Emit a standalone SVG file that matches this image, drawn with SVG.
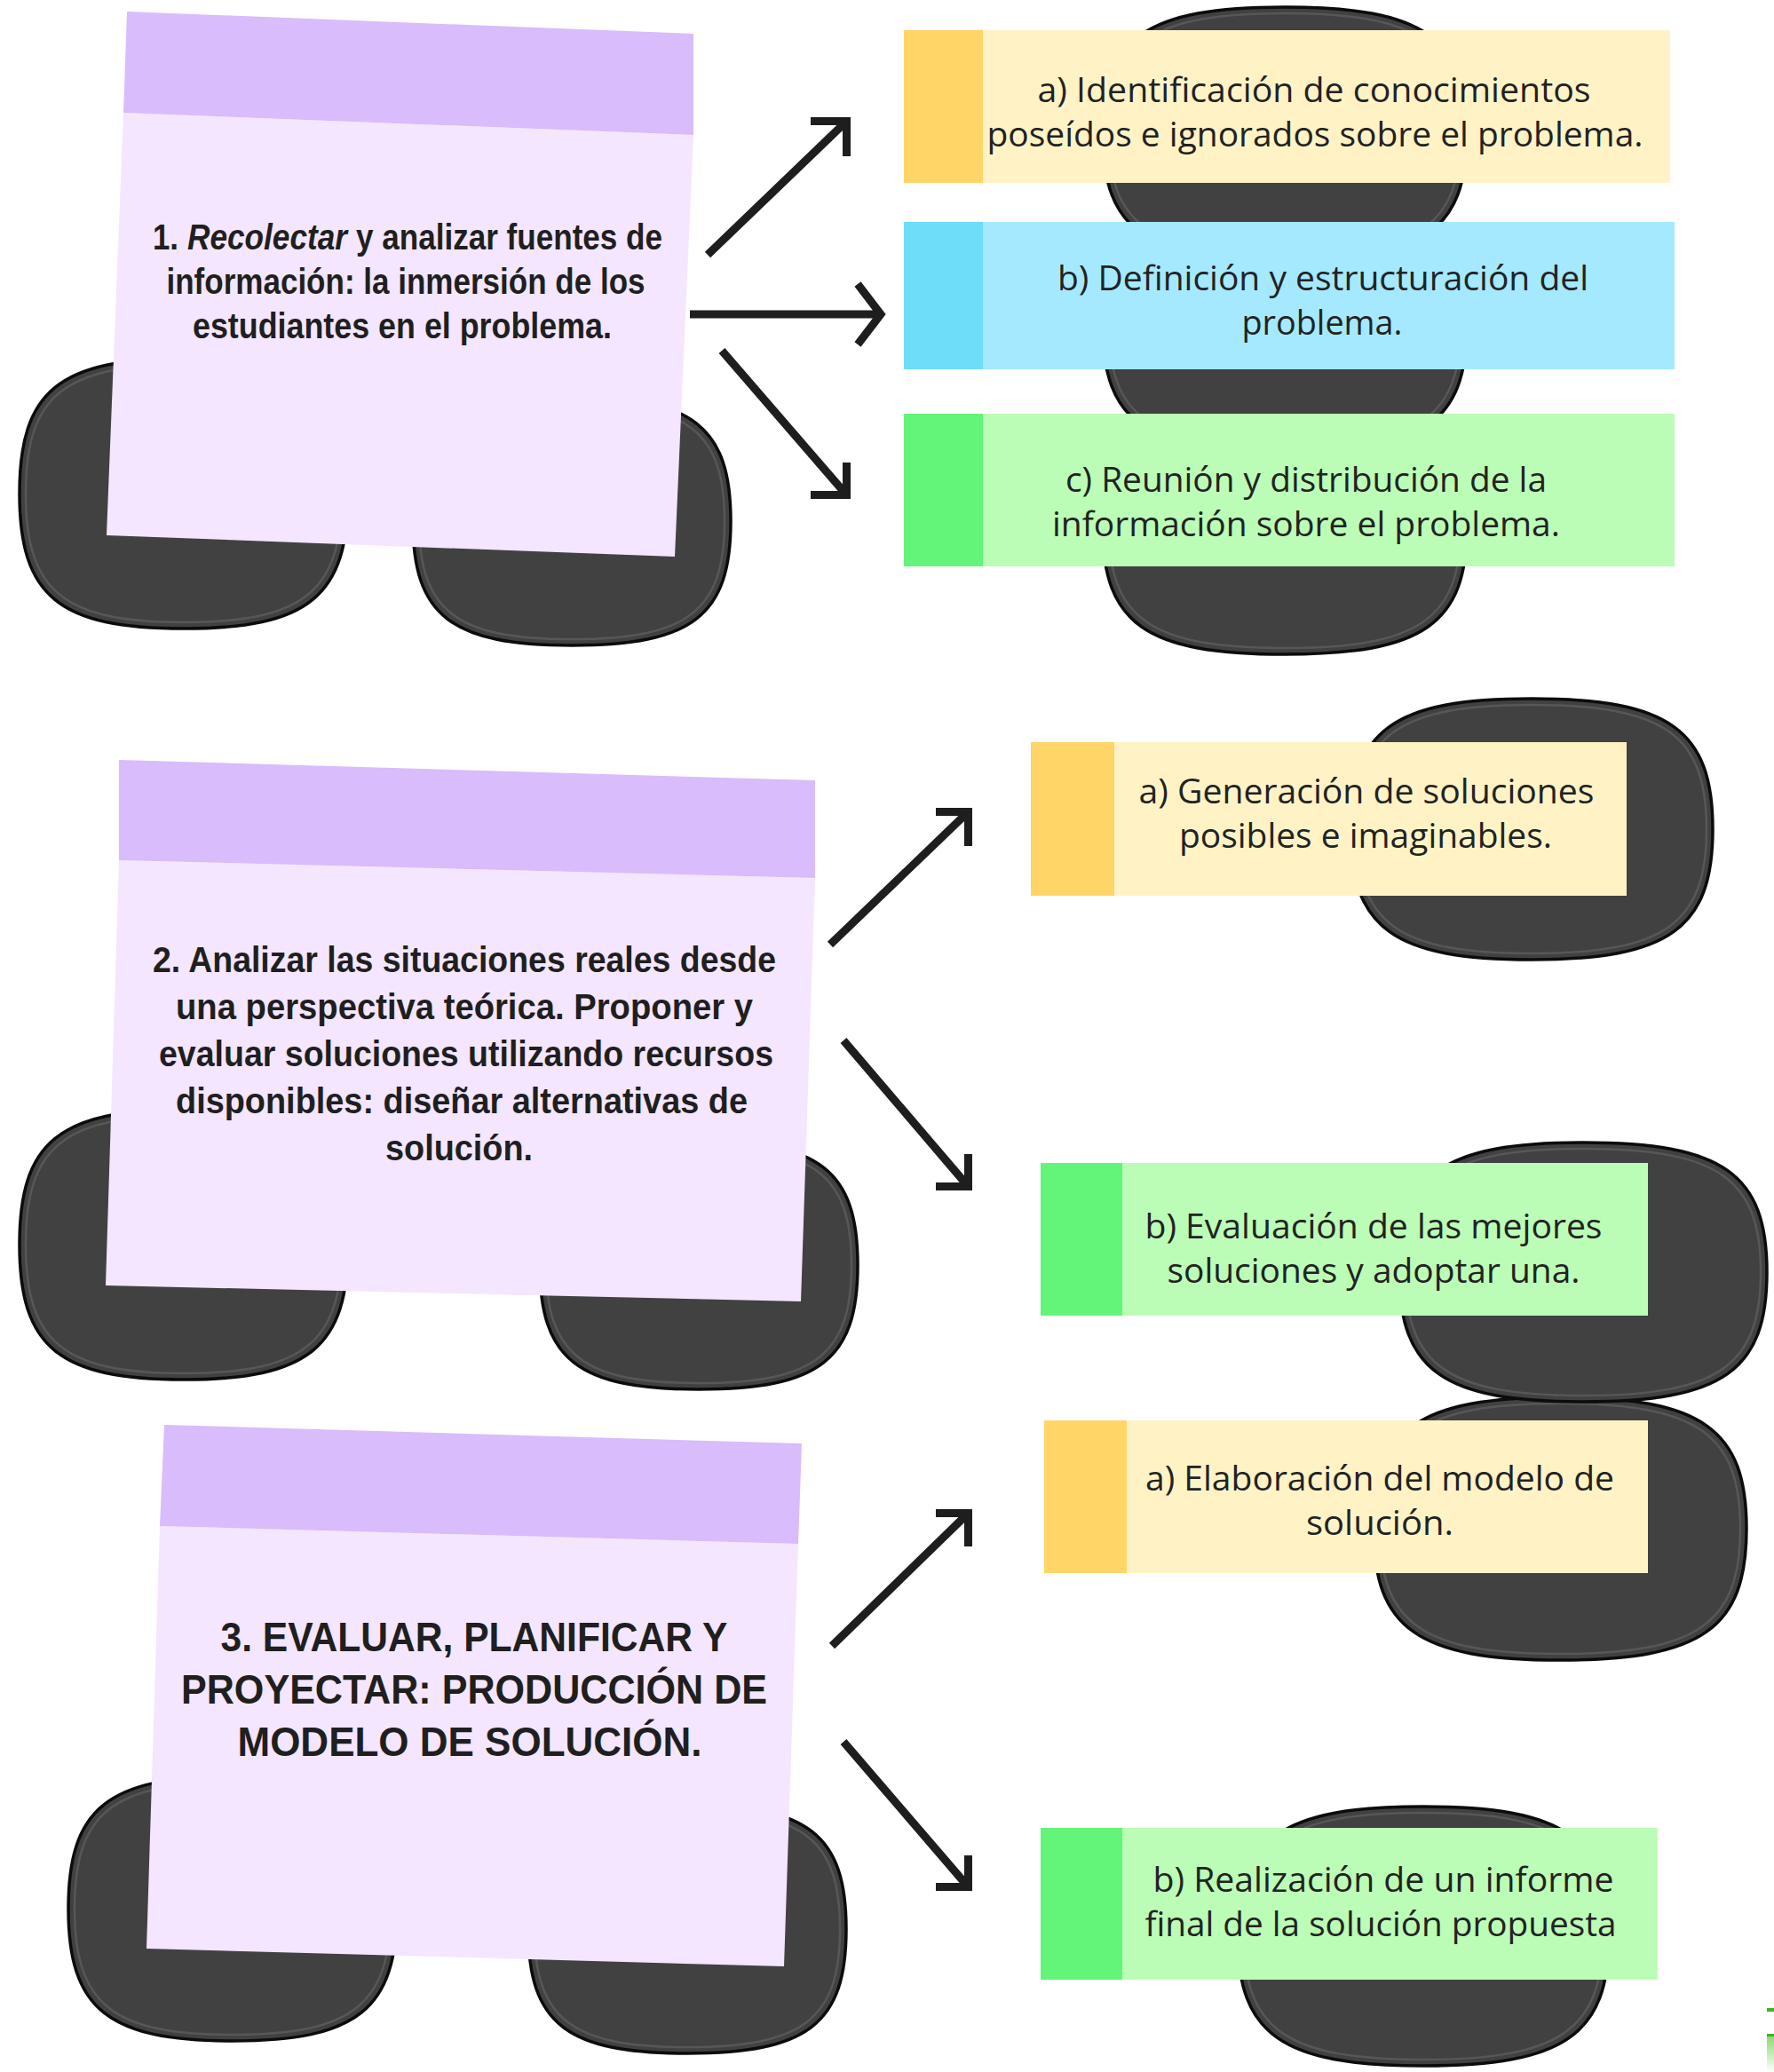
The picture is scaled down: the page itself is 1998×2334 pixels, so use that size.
<svg xmlns="http://www.w3.org/2000/svg" width="1998" height="2334" viewBox="0 0 1998 2334">
<defs>
<style>
.blob{fill:#414141;stroke:#0c0c0c;stroke-width:3.5}
.ring{fill:none;stroke:#575757;stroke-width:2.5}
.hdr{fill:#D9BCFB}
.bdy{fill:#F3E6FE}
.nt{font-family:"Liberation Sans",Arial,sans-serif;font-weight:bold;fill:#1f1f1f;text-anchor:middle}
.st{text-anchor:start}
.bt{font-family:"Open Sans","Noto Sans",sans-serif;font-size:38px;fill:#222;text-anchor:middle}
.y1{fill:#FFD568}.y2{fill:#FFF3C6}
.b1{fill:#6DDDF9}.b2{fill:#A4E9FF}
.g1{fill:#62F57A}.g2{fill:#BBFDB6}
.arr{fill:none;stroke:#1e1e1e;stroke-width:9;stroke-linecap:butt;stroke-linejoin:miter}
</style>
<path id="sq" d="M-1,0 C-1,-0.76 -0.76,-1 0,-1 C0.76,-1 1,-0.76 1,0 C1,0.76 0.76,1 0,1 C-0.76,1 -1,0.76 -1,0 Z" vector-effect="non-scaling-stroke"/>
<linearGradient id="gf" x1="0" y1="0" x2="0" y2="1"><stop offset="0" stop-color="#8fd870"/><stop offset="1" stop-color="#ffffff"/></linearGradient>
</defs>
<rect width="1998" height="2334" fill="#ffffff"/>
<g id="backdrops">
<use href="#sq" class="blob" transform="translate(207,556) scale(185,152)"/><use href="#sq" class="ring" transform="translate(207,556) scale(178,145)"/>
<use href="#sq" class="blob" transform="translate(644,587) scale(179,140)"/><use href="#sq" class="ring" transform="translate(644,587) scale(172,133)"/>
<use href="#sq" class="blob" transform="translate(1447,594) scale(205,143)"/><use href="#sq" class="ring" transform="translate(1447,594) scale(198,136)"/>
<use href="#sq" class="blob" transform="translate(1447,367) scale(205,143)"/><use href="#sq" class="ring" transform="translate(1447,367) scale(198,136)"/>
<use href="#sq" class="blob" transform="translate(1447,151) scale(205,143)"/><use href="#sq" class="ring" transform="translate(1447,151) scale(198,136)"/>
<use href="#sq" class="blob" transform="translate(207,1402) scale(185,152)"/><use href="#sq" class="ring" transform="translate(207,1402) scale(178,145)"/>
<use href="#sq" class="blob" transform="translate(787,1425) scale(179,140)"/><use href="#sq" class="ring" transform="translate(787,1425) scale(172,133)"/>
<use href="#sq" class="blob" transform="translate(1725,934) scale(204,147)"/><use href="#sq" class="ring" transform="translate(1725,934) scale(197,140)"/>
<use href="#sq" class="blob" transform="translate(1757,1722) scale(210,148)"/><use href="#sq" class="ring" transform="translate(1757,1722) scale(203,141)"/>
<use href="#sq" class="blob" transform="translate(1783,1433) scale(207,146)"/><use href="#sq" class="ring" transform="translate(1783,1433) scale(200,139)"/>
<use href="#sq" class="blob" transform="translate(1603,2181) scale(209,146)"/><use href="#sq" class="ring" transform="translate(1603,2181) scale(202,139)"/>
<use href="#sq" class="blob" transform="translate(262,2150) scale(185,149)"/><use href="#sq" class="ring" transform="translate(262,2150) scale(178,142)"/>
<use href="#sq" class="blob" transform="translate(774,2173) scale(179,140)"/><use href="#sq" class="ring" transform="translate(774,2173) scale(172,133)"/>
</g>
<g id="note1">
<polygon class="bdy" points="139,127 781,152 760,627 120,603"/>
<polygon class="hdr" points="143,13 781,38 781,152 139,127"/>
<text class="nt st" font-size="40" x="172" y="281" textLength="29" lengthAdjust="spacingAndGlyphs">1.</text>
<text class="nt st" font-size="40" font-style="italic" x="211" y="281" textLength="180" lengthAdjust="spacingAndGlyphs">Recolectar</text>
<text class="nt st" font-size="40" x="401" y="281" textLength="345" lengthAdjust="spacingAndGlyphs">y analizar fuentes de</text>
<text class="nt" font-size="40" x="457" y="331" textLength="539" lengthAdjust="spacingAndGlyphs">información: la inmersión de los</text>
<text class="nt" font-size="40" x="453" y="381" textLength="472" lengthAdjust="spacingAndGlyphs">estudiantes en el problema.</text>
</g>
<g id="note2">
<polygon class="bdy" points="134,969 918,989 902,1466 119,1448"/>
<polygon class="hdr" points="134,856 918,879 918,989 134,969"/>
<text class="nt" font-size="40" x="523" y="1095" textLength="702" lengthAdjust="spacingAndGlyphs">2. Analizar las situaciones reales desde</text>
<text class="nt" font-size="40" x="523" y="1148" textLength="650" lengthAdjust="spacingAndGlyphs">una perspectiva teórica. Proponer y</text>
<text class="nt" font-size="40" x="525" y="1201" textLength="692" lengthAdjust="spacingAndGlyphs">evaluar soluciones utilizando recursos</text>
<text class="nt" font-size="40" x="520" y="1254" textLength="644" lengthAdjust="spacingAndGlyphs">disponibles: diseñar alternativas de</text>
<text class="nt" font-size="40" x="517" y="1307" textLength="166" lengthAdjust="spacingAndGlyphs">solución.</text>
</g>
<g id="note3">
<polygon class="bdy" points="180,1719 899,1739 883,2215 165,2195"/>
<polygon class="hdr" points="185,1605 903,1626 899,1739 180,1719"/>
<text class="nt" font-size="46" x="534" y="1860" textLength="571" lengthAdjust="spacingAndGlyphs">3. EVALUAR, PLANIFICAR Y</text>
<text class="nt" font-size="46" x="534" y="1919" textLength="660" lengthAdjust="spacingAndGlyphs">PROYECTAR: PRODUCCIÓN DE</text>
<text class="nt" font-size="46" x="529" y="1978" textLength="523" lengthAdjust="spacingAndGlyphs">MODELO DE SOLUCIÓN.</text>
</g>
<g id="box1a">
<rect class="y2" x="1018" y="34" width="863" height="172"/><rect class="y1" x="1018" y="34" width="89" height="172"/>
<text class="bt" x="1480" y="115" textLength="623" lengthAdjust="spacingAndGlyphs">a) Identificación de conocimientos</text>
<text class="bt" x="1481" y="165" textLength="739" lengthAdjust="spacingAndGlyphs">poseídos e ignorados sobre el problema.</text>
</g>
<g id="box1b">
<rect class="b2" x="1018" y="250" width="868" height="166"/><rect class="b1" x="1018" y="250" width="89" height="166"/>
<text class="bt" x="1490" y="327" textLength="598" lengthAdjust="spacingAndGlyphs">b) Definición y estructuración del</text>
<text class="bt" x="1489" y="377" textLength="181" lengthAdjust="spacingAndGlyphs">problema.</text>
</g>
<g id="box1c">
<rect class="g2" x="1018" y="466" width="868" height="172"/><rect class="g1" x="1018" y="466" width="89" height="172"/>
<text class="bt" x="1471" y="554" textLength="542" lengthAdjust="spacingAndGlyphs">c) Reunión y distribución de la</text>
<text class="bt" x="1471" y="604" textLength="572" lengthAdjust="spacingAndGlyphs">información sobre el problema.</text>
</g>
<g id="box2a">
<rect class="y2" x="1161" y="836" width="671" height="173"/><rect class="y1" x="1161" y="836" width="94" height="173"/>
<text class="bt" x="1539" y="905" textLength="513" lengthAdjust="spacingAndGlyphs">a) Generación de soluciones</text>
<text class="bt" x="1538" y="955" textLength="420" lengthAdjust="spacingAndGlyphs">posibles e imaginables.</text>
</g>
<g id="box2b">
<rect class="g2" x="1172" y="1310" width="684" height="172"/><rect class="g1" x="1172" y="1310" width="92" height="172"/>
<text class="bt" x="1547" y="1395" textLength="515" lengthAdjust="spacingAndGlyphs">b) Evaluación de las mejores</text>
<text class="bt" x="1547" y="1445" textLength="465" lengthAdjust="spacingAndGlyphs">soluciones y adoptar una.</text>
</g>
<g id="box3a">
<rect class="y2" x="1176" y="1600" width="680" height="172"/><rect class="y1" x="1176" y="1600" width="93" height="172"/>
<text class="bt" x="1554" y="1679" textLength="528" lengthAdjust="spacingAndGlyphs">a) Elaboración del modelo de</text>
<text class="bt" x="1554" y="1729" textLength="166" lengthAdjust="spacingAndGlyphs">solución.</text>
</g>
<g id="box3b">
<rect class="g2" x="1172" y="2059" width="695" height="171"/><rect class="g1" x="1172" y="2059" width="92" height="171"/>
<text class="bt" x="1558" y="2131" textLength="519" lengthAdjust="spacingAndGlyphs">b) Realización de un informe</text>
<text class="bt" x="1555" y="2181" textLength="531" lengthAdjust="spacingAndGlyphs">final de la solución propuesta</text>
</g>
<g id="connectors">
<path class="arr" d="M797,287 L953.5,136.5 M913,136.5 H953.5 V176"/>
<path class="arr" d="M777,354 H990 M966,320 L992,354 L966,388"/>
<path class="arr" d="M813,395 L953.5,557.5 M953.5,521 V557.5 H913"/>
<path class="arr" d="M935,1064 L1090.5,914.5 M1054,914.5 H1090.5 V953"/>
<path class="arr" d="M950,1172 L1090.5,1336.5 M1090.5,1300 V1336.5 H1054"/>
<path class="arr" d="M937,1854 L1090.5,1704.5 M1054,1704.5 H1090.5 V1742"/>
<path class="arr" d="M950,1962 L1090.5,2125.5 M1090.5,2090 V2125.5 H1054"/>
</g>
<g id="edge-fragment">
<rect x="1990" y="2262" width="8" height="4" fill="#3db521"/>
<rect x="1990" y="2291" width="8" height="3" fill="#3db521"/>
<rect x="1990" y="2294" width="8" height="40" fill="url(#gf)"/>
</g>
</svg>
